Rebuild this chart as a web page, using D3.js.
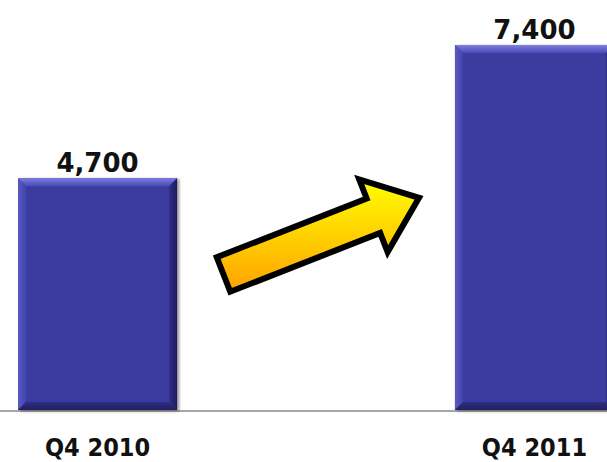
<!DOCTYPE html>
<html>
<head>
<meta charset="utf-8">
<script src="https://cdn.jsdelivr.net/npm/d3@7"></script>
<style>
  html, body { margin: 0; padding: 0; background: #fff; }
  svg { display: block; }
</style>
</head>
<body>
<svg id="chart" width="607" height="462"></svg>
<script>
// Data
const categories = ["Q4 2010", "Q4 2011"];
const values = [4700, 7400];
const valueLabels = ["4,700", "7,400"];

const W = 607, H = 462;
const svg = d3.select("#chart");

const x = d3.scaleBand()
  .domain(categories)
  .range([18, 614])
  .paddingInner(0.636)
  .paddingOuter(0);

const y = d3.scaleLinear()
  .domain([0, d3.max(values)])
  .range([410, 45]);

const defs = svg.append("defs");

// soft drop shadow behind the bars
const shadow = defs.append("filter").attr("id", "barShadow")
  .attr("x", "-10%").attr("y", "-10%").attr("width", "120%").attr("height", "120%");
shadow.append("feGaussianBlur").attr("in", "SourceAlpha").attr("stdDeviation", 1.5).attr("result", "b");
shadow.append("feOffset").attr("in", "b").attr("dx", 2).attr("dy", 1).attr("result", "o");
shadow.append("feComponentTransfer").attr("in", "o").attr("result", "s")
  .append("feFuncA").attr("type", "linear").attr("slope", 0.45);
const merge = shadow.append("feMerge");
merge.append("feMergeNode").attr("in", "s");
merge.append("feMergeNode").attr("in", "SourceGraphic");

// bevel gradients
function vGrad(id, stops, horizontal) {
  const g = defs.append("linearGradient").attr("id", id)
    .attr("x1", 0).attr("y1", 0)
    .attr("x2", horizontal ? 1 : 0).attr("y2", horizontal ? 0 : 1);
  stops.forEach(([o, c]) => g.append("stop").attr("offset", o).attr("stop-color", c));
}
vGrad("bevTop", [[0, "#8080e0"], [0.35, "#6a6ad2"], [1, "#4b4bb6"]]);
vGrad("bevLeft", [[0, "#5a5ac4"], [1, "#4343ad"]], true);
vGrad("bevRight", [[0, "#303088"], [1, "#1e1e5c"]], true);
vGrad("bevBottom", [[0, "#2e2e84"], [1, "#202060"]]);

// arrow gradient
const ag = defs.append("linearGradient").attr("id", "arrowFill")
  .attr("x1", 0).attr("y1", 0).attr("x2", 0).attr("y2", 1);
ag.append("stop").attr("offset", 0).attr("stop-color", "#ffff00");
ag.append("stop").attr("offset", 1).attr("stop-color", "#ffa200");

// axis baseline
svg.append("line")
  .attr("x1", 0).attr("x2", W)
  .attr("y1", y(0) + 1).attr("y2", y(0) + 1)
  .attr("stroke", "#a6a6a6").attr("stroke-width", 2);

// bars with bevelled edges
const b = 8;
const bars = svg.selectAll("g.bar")
  .data(categories.map((c, i) => ({ c, v: values[i], label: valueLabels[i] })))
  .join("g").attr("class", "bar")
  .attr("filter", "url(#barShadow)");

bars.each(function (d) {
  const g = d3.select(this);
  const x0 = x(d.c), x1 = x(d.c) + x.bandwidth();
  const y0 = y(d.v), y1 = y(0);
  g.append("rect")
    .attr("x", x0).attr("y", y0)
    .attr("width", x1 - x0).attr("height", y1 - y0)
    .attr("fill", "#3a3aa0");
  const poly = (pts, fill) => g.append("polygon")
    .attr("points", pts.map(p => p.join(",")).join(" "))
    .attr("fill", fill);
  poly([[x0, y0], [x1, y0], [x1 - b, y0 + b], [x0 + b, y0 + b]], "url(#bevTop)");
  poly([[x0, y0], [x0 + b, y0 + b], [x0 + b, y1 - b], [x0, y1]], "url(#bevLeft)");
  poly([[x1, y0], [x1, y1], [x1 - b, y1 - b], [x1 - b, y0 + b]], "url(#bevRight)");
  poly([[x0, y1], [x1, y1], [x1 - b, y1 - b], [x0 + b, y1 - b]], "url(#bevBottom)");
});

// value labels
svg.selectAll("text.value")
  .data(categories.map((c, i) => ({ c, v: values[i], label: valueLabels[i] })))
  .join("text").attr("class", "value")
  .attr("x", d => x(d.c) + x.bandwidth() / 2)
  .attr("y", d => Math.max(y(d.v) - 6, 32))
  .attr("text-anchor", "middle")
  .attr("font-family", "'DejaVu Sans', sans-serif")
  .attr("font-weight", "bold")
  .attr("font-size", 26)
  .attr("fill", "#111")
  .text(d => d.label);

// category labels
svg.selectAll("text.cat")
  .data(categories)
  .join("text").attr("class", "cat")
  .attr("x", d => x(d) + x.bandwidth() / 2)
  .attr("y", 456)
  .attr("text-anchor", "middle")
  .attr("font-family", "'DejaVu Sans Condensed', 'DejaVu Sans', sans-serif")
  .attr("font-stretch", "condensed")
  .attr("font-weight", "bold")
  .attr("font-size", 25)
  .attr("fill", "#111")
  .text(d => d);

// growth arrow: built along its own axis, then rotated into place
const arrow = { tail: [223.5, 274.5], length: 210, angle: -21.4,
                shaftHalf: 18.5, headLen: 49, headHalf: 39 };
const L = arrow.length, hs = arrow.shaftHalf, hh = arrow.headHalf, hl = arrow.headLen;
const local = [[0, hs], [0, -hs], [L - hl, -hs], [L - hl, -hh], [L, 0],
               [L - hl, hh], [L - hl, hs]];
const th = arrow.angle * Math.PI / 180;
const pts = local.map(([u, v]) => [
  arrow.tail[0] + u * Math.cos(th) - v * Math.sin(th),
  arrow.tail[1] + u * Math.sin(th) + v * Math.cos(th)
]);
svg.append("path")
  .attr("d", d3.line()(pts) + "Z")
  .attr("fill", "url(#arrowFill)")
  .attr("stroke", "#000")
  .attr("stroke-width", 6)
  .attr("stroke-linejoin", "miter")
  .attr("stroke-miterlimit", 10);
</script>
</body>
</html>
